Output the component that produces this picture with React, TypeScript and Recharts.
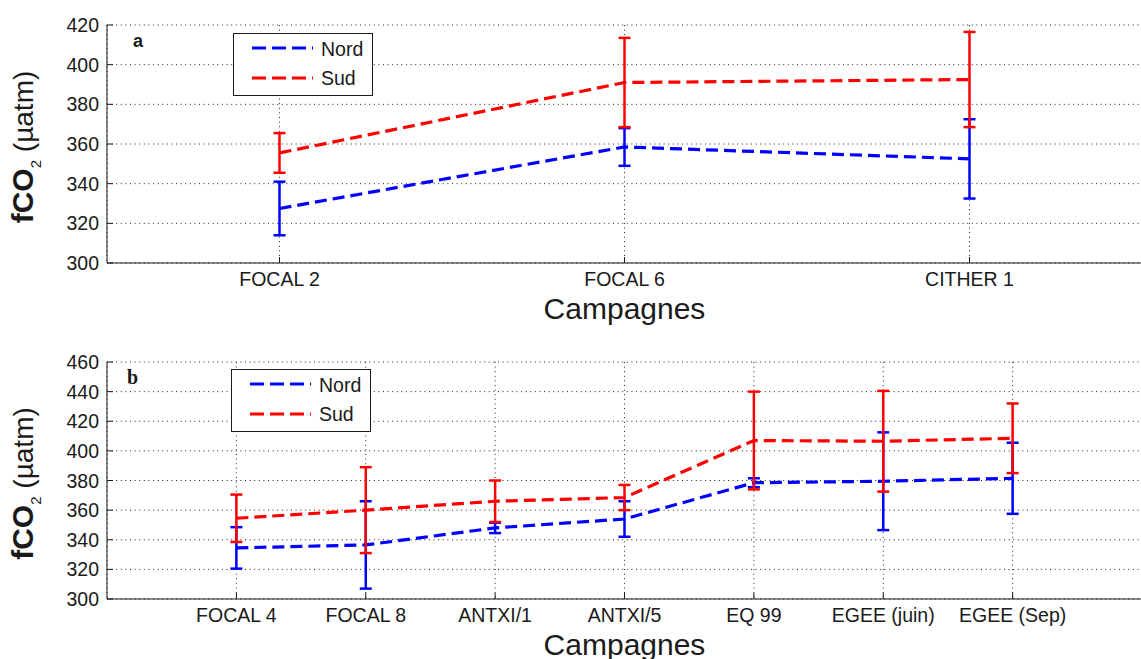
import React from 'react';
import { ComposedChart, Line, XAxis, YAxis, CartesianGrid, ErrorBar, Legend } from 'recharts';

// panneau a
const campaignsA = ['FOCAL 2', 'FOCAL 6', 'CITHER 1'];
const nordA = [327.5, 358.5, 352.5];
const nordErrA = [13.5, 9.5, 20];
const sudA = [355.5, 391, 392.5];
const sudErrA = [10, 22.5, 24];
const yTicksA = [300, 320, 340, 360, 380, 400, 420];

// panneau b
const campaignsB = ['FOCAL 4', 'FOCAL 8', 'ANTXI/1', 'ANTXI/5', 'EQ 99', 'EGEE (juin)', 'EGEE (Sep)'];
const nordB = [334.5, 336.5, 348, 354, 378.5, 379.5, 381.5];
const nordErrB = [14, 29.5, 3.5, 12, 3, 33, 24];
const sudB = [354.5, 360, 366, 368.5, 407, 406.5, 408.5];
const sudErrB = [16, 29, 14, 8.5, 33, 34, 23.5];
const yTicksB = [300, 320, 340, 360, 380, 400, 420, 440, 460];

const FONT = '"Liberation Sans", Arial, Helvetica, sans-serif';
const NORD = '#0000ff';
const SUD = '#ff0000';
const INK = '#1a1a1a';

const buildRows = (n: number[], ne: number[], s: number[], se: number[]) =>
  n.map((v, i) => ({ x: i + 1, nord: v, nordErr: ne[i], sud: s[i], sudErr: se[i] }));

const rowsA = buildRows(nordA, nordErrA, sudA, sudErrA);
const rowsB = buildRows(nordB, nordErrB, sudB, sudErrB);

const YTick = (props: any) => {
  const { x, y, payload } = props;
  const ax = x + 8;
  return (
    <g>
      <line x1={ax} x2={ax + 6} y1={y} y2={y} stroke={INK} />
      <text x={x} y={y + 7} textAnchor="end" fontSize={19.5} fontFamily={FONT} fill={INK}>
        {payload.value}
      </text>
    </g>
  );
};

const RightTick = (props: any) => {
  const { x, y } = props;
  return <line x1={x - 6} x2={x} y1={y} y2={y} stroke={INK} />;
};

const TopTick = (props: any) => {
  const { x, y } = props;
  return <line x1={x} x2={x} y1={y} y2={y + 6} stroke={INK} />;
};

const makeXTick = (labels: string[]) => (props: any) => {
  const { x, y, payload } = props;
  return (
    <g>
      <line x1={x} x2={x} y1={y} y2={y - 6} stroke={INK} />
      <text x={x} y={y + 23} textAnchor="middle" fontSize={19.5} fontFamily={FONT} fill={INK}>
        {labels[payload.value - 1]}
      </text>
    </g>
  );
};

// titre de l'axe Y + lettre du panneau
const makeYLabel = (tag: string, serif: boolean) => (props: any) => {
  const { viewBox } = props;
  const cy = viewBox.y + viewBox.height / 2;
  const px = viewBox.x + viewBox.width;
  return (
    <g>
      <text transform={`translate(33,${cy + 3}) rotate(-90)`} textAnchor="middle" fontSize={28} fontFamily={FONT} fill={INK}>
        <tspan fontWeight="bold" fontSize={30}>fCO</tspan>
        <tspan dy={8} fontSize={15}>2</tspan>
        <tspan dy={-8}> (µatm)</tspan>
      </text>
      <text
        x={px + (serif ? 20 : 26)}
        y={viewBox.y + 22}
        fontSize={serif ? 20 : 18}
        fontWeight="bold"
        fontFamily={serif ? '"Liberation Serif", "Times New Roman", serif' : FONT}
        fill={INK}
      >
        {tag}
      </text>
    </g>
  );
};

const XLabel = (props: any) => {
  const { viewBox } = props;
  const cx = viewBox.x + viewBox.width / 2;
  return (
    <text x={cx} y={viewBox.y + 55.5} textAnchor="middle" fontSize={30} fontFamily={FONT} fill={INK}>
      Campagnes
    </text>
  );
};

const LegendBox = ({ payload }: any) => (
  <svg width={140} height={63} style={{ display: 'block' }}>
    <rect x={0.5} y={0.5} width={139} height={62} fill="#fff" stroke={INK} />
    {(payload || []).map((entry: any, i: number) => (
      <g key={entry.value}>
        <line x1={19} x2={80} y1={15 + i * 30} y2={15 + i * 30} stroke={entry.color} strokeWidth={3} strokeDasharray="14 6" />
        <text x={88} y={23 + i * 29} fontSize={19.5} fontFamily={FONT} fill={INK}>
          {entry.value}
        </text>
      </g>
    ))}
  </svg>
);

interface PanelProps {
  rows: any[];
  labels: string[];
  yTicks: number[];
  xDomain: [number, number];
  tag: string;
  serif: boolean;
  height: number;
  marginTop: number;
  xAxisHeight: number;
  legendLeft: number;
  legendTop: number;
}

const Panel: React.FC<PanelProps> = ({ rows, labels, yTicks, xDomain, tag, serif, height, marginTop, xAxisHeight, legendLeft, legendTop }) => {
  const xTicks = labels.map((_l, i) => i + 1);
  const yDomain: [number, number] = [yTicks[0], yTicks[yTicks.length - 1]];
  return (
    <ComposedChart width={1145} height={height} data={rows} margin={{ top: marginTop, right: 3, bottom: 0, left: 0 }}>
      <CartesianGrid stroke="#222" strokeDasharray="1 3.6" />
      <XAxis
        dataKey="x"
        type="number"
        domain={xDomain}
        ticks={xTicks}
        interval={0}
        height={xAxisHeight}
        tickSize={0}
        tickMargin={0}
        tick={makeXTick(labels)}
        axisLine={{ stroke: INK }}
        label={{ content: XLabel }}
      />
      <XAxis
        xAxisId="top"
        orientation="top"
        dataKey="x"
        type="number"
        domain={xDomain}
        ticks={xTicks}
        interval={0}
        height={0}
        tickSize={0}
        tickMargin={0}
        tick={TopTick}
        axisLine={{ stroke: INK }}
      />
      <YAxis
        type="number"
        domain={yDomain}
        ticks={yTicks}
        interval={0}
        width={107}
        tickSize={0}
        tickMargin={8}
        tick={YTick}
        axisLine={{ stroke: INK }}
        label={{ content: makeYLabel(tag, serif) }}
      />
      <YAxis
        yAxisId="right"
        orientation="right"
        type="number"
        domain={yDomain}
        ticks={yTicks}
        interval={0}
        width={0}
        tickSize={0}
        tickMargin={0}
        tick={RightTick}
        axisLine={{ stroke: INK }}
      />
      <Legend
        layout="horizontal"
        verticalAlign="middle"
        align="center"
        wrapperStyle={{ left: legendLeft, top: legendTop, width: 140, height: 63 }}
        content={(p: any) => <LegendBox payload={p.payload} />}
      />
      <Line
        name="Nord"
        dataKey="nord"
        type="linear"
        stroke={NORD}
        strokeWidth={3.2}
        strokeDasharray="12 6"
        dot={false}
        activeDot={false}
        isAnimationActive={false}
      >
        <ErrorBar dataKey="nordErr" direction="y" width={6} stroke={NORD} strokeWidth={2.5} isAnimationActive={false} />
      </Line>
      <Line
        name="Sud"
        dataKey="sud"
        type="linear"
        stroke={SUD}
        strokeWidth={3.2}
        strokeDasharray="12 6"
        dot={false}
        activeDot={false}
        isAnimationActive={false}
      >
        <ErrorBar dataKey="sudErr" direction="y" width={6} stroke={SUD} strokeWidth={2.5} isAnimationActive={false} />
      </Line>
    </ComposedChart>
  );
};

export default function App() {
  return (
    <div style={{ position: 'absolute', left: 0, top: 0, width: 1141, height: 659, overflow: 'hidden', background: '#fff' }}>
      <div style={{ position: 'absolute', left: 0, top: 0 }}>
        <Panel
          rows={rowsA}
          labels={campaignsA}
          yTicks={yTicksA}
          xDomain={[0.5, 3.5]}
          tag="a"
          serif={false}
          height={330}
          marginTop={25}
          xAxisHeight={67}
          legendLeft={233}
          legendTop={33}
        />
      </div>
      <div style={{ position: 'absolute', left: 0, top: 330 }}>
        <Panel
          rows={rowsB}
          labels={campaignsB}
          yTicks={yTicksB}
          xDomain={[0, 8]}
          tag="b"
          serif={true}
          height={329}
          marginTop={32}
          xAxisHeight={60}
          legendLeft={231}
          legendTop={39}
        />
      </div>
    </div>
  );
}
